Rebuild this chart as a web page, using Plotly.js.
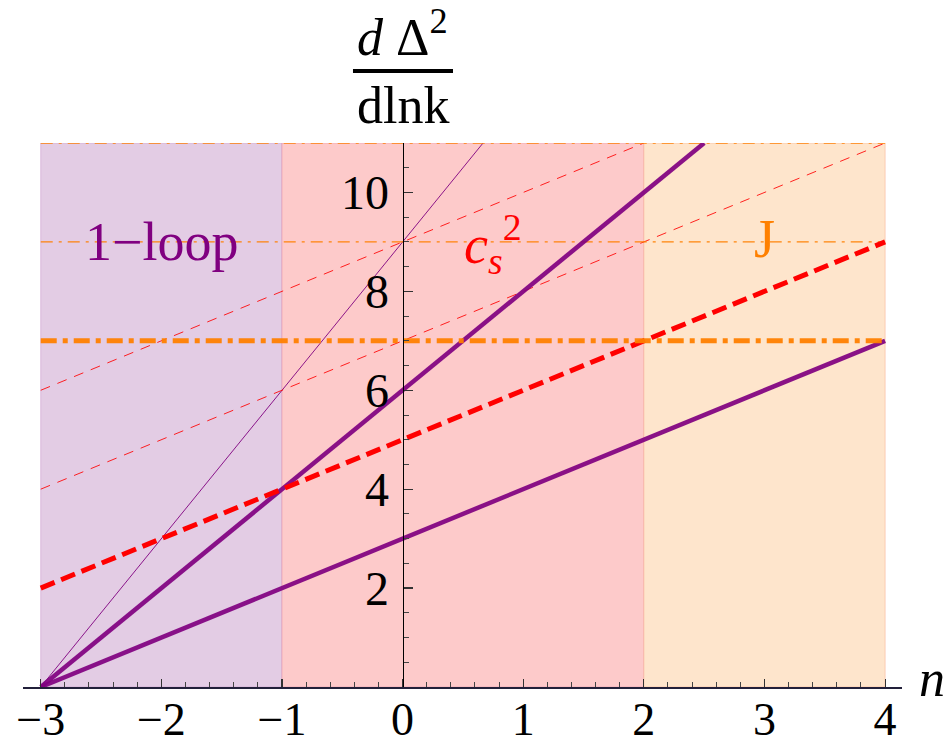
<!DOCTYPE html>
<html><head><meta charset="utf-8">
<script src="https://cdn.plot.ly/plotly-3.0.1.min.js"></script>
<style>html,body{margin:0;padding:0;background:#fff}</style>
</head><body><div id="chart" style="width:950px;height:740px"></div>
<script>
// ---- data ----
const regionStart = [-3, -1, 2];
const regionEnd = [-1, 2, 4];
const regionTop = 11;
const regionNames = ['1-loop', 'cs2', 'J'];

// purple lines (1-loop)
const loopThinN = [-3, -1, 0, 0.667];
const loopThinY = [0, 6, 9, 11];
const loopThickN = [-3, -1, 0, 2.5];
const loopThickY = [0, 4, 6, 11];
const loopMidN = [-3, -1, 0, 4];
const loopMidY = [0, 2, 3, 7];

// red dashed lines (c_s^2)
const csThickN = [-3, -1, 0, 2, 4];
const csThickY = [2, 4, 5, 7, 9];
const csThinAN = [-3, -1, 0, 4];
const csThinAY = [4, 6, 7, 11];
const csThinBN = [-3, -1, 0, 2];
const csThinBY = [6, 8, 9, 11];

// orange dash-dot lines (J)
const jThickN = [-3, 4];
const jThickY = [7, 7];
const jThinAN = [-3, 4];
const jThinAY = [9, 9];
const jThinBN = [-3, 4];
const jThinBY = [11, 11];

const xTickVals = [-3, -2, -1, 0, 1, 2, 3, 4];
const yTickVals = [2, 4, 6, 8, 10];

const labelText = ['1\u2212loop', '<i>c</i><sub><i>s</i></sub><sup>2</sup>', 'J'];
const labelN = [-2, 0.75, 3];
const labelY = [9, 8.95, 9.05];

// ---- styles ----
const regionFill = ['#e3cce4', '#fdcaca', '#fee5cc'];
const regionEdge = ['rgba(200,150,200,0.5)', 'rgba(235,150,170,0.6)', 'rgba(250,180,150,0.6)'];
const PURPLE = 'rgb(128,0,128)';
const RED = '#ff0000';
const ORANGE = '#ff7f00';
const SERIF = '"Liberation Serif", "DejaVu Serif", serif';

const traces = [];
for (let i = 0; i < regionStart.length; i++) {
  traces.push({
    x: [regionStart[i], regionEnd[i], regionEnd[i], regionStart[i], regionStart[i]],
    y: [0, 0, regionTop, regionTop, 0],
    mode: 'lines', fill: 'toself', fillcolor: regionFill[i],
    line: {color: regionEdge[i], width: 1}, hoverinfo: 'skip', name: regionNames[i]
  });
}
function line(x, y, color, width, dash, opacity, clip) {
  traces.push({x: x, y: y, mode: 'lines', line: {color: color, width: width, dash: dash},
    opacity: opacity, hoverinfo: 'skip', cliponaxis: clip});
}
line(loopThinN, loopThinY, PURPLE, 1, 'solid', 0.9, true);
line(csThinAN, csThinAY, RED, 1, '10px,8px', 0.85, true);
line(csThinBN, csThinBY, RED, 1, '10px,8px', 0.85, true);
line(jThinAN, jThinAY, ORANGE, 1.2, '12px,6px,3px,6px', 0.95, true);
line(jThinBN, jThinBY, ORANGE, 1.5, '12px,6px,3px,6px', 0.95, false);
line(loopMidN, loopMidY, PURPLE, 4.5, 'solid', 0.92, true);
line(loopThickN, loopThickY, PURPLE, 4.5, 'solid', 0.92, true);
line(csThickN, csThickY, RED, 5, '15px,7px', 1, true);
line(jThickN, jThickY, ORANGE, 5, '16px,6px,5px,6px', 0.95, true);

const xMin = -3.147, xMax = 4.14;
const labelColors = [PURPLE, RED, '#ff8000'];
const annotations = labelText.map((t, i) => ({
  x: labelN[i], y: labelY[i], xref: 'x', yref: 'y', text: t, showarrow: false,
  font: {family: SERIF, size: 54, color: labelColors[i]}, xanchor: 'center', yanchor: 'middle'
}));
annotations.push({x: 0, y: 1, xref: 'x', yref: 'paper', text: '<i>d</i> \u0394<sup>2</sup>',
  showarrow: false, font: {family: SERIF, size: 52, color: '#000'}, xanchor: 'center', yanchor: 'middle', yshift: 110});
annotations.push({x: 0, y: 1, xref: 'x', yref: 'paper', text: 'dlnk',
  showarrow: false, font: {family: SERIF, size: 52, color: '#000'}, xanchor: 'center', yanchor: 'middle', yshift: 38});
annotations.push({x: 1.034, y: 0.016, xref: 'paper', yref: 'paper', text: '<i>n</i>',
  showarrow: false, font: {family: SERIF, size: 52, color: '#000'}, xanchor: 'center', yanchor: 'middle'});

const layout = {
  width: 950, height: 740,
  margin: {l: 23, r: 48, t: 143, b: 53},
  paper_bgcolor: '#fff', plot_bgcolor: 'rgba(0,0,0,0)',
  showlegend: false,
  font: {family: SERIF},
  xaxis: {
    range: [xMin, xMax], showgrid: false, zeroline: false,
    showline: true, linecolor: '#22203a', linewidth: 1.5,
    tickmode: 'array', tickvals: xTickVals, ticks: 'inside', ticklen: 8, tickwidth: 1.2, tickcolor: '#333',
    minor: {dtick: 0.2, tick0: 0, ticks: 'inside', ticklen: 5, tickwidth: 1, tickcolor: '#444'},
    tickfont: {family: SERIF, size: 46, color: '#000'}, anchor: 'y', ticklabelstandoff: -9
  },
  yaxis: {
    range: [0, 11], showgrid: false, zeroline: false,
    showline: true, linecolor: '#000', linewidth: 1.5,
    anchor: 'free', position: (0 - xMin) / (xMax - xMin),
    tickmode: 'array', tickvals: yTickVals, ticks: 'inside', ticklen: 9, tickwidth: 1.2, tickcolor: '#333',
    minor: {dtick: 0.5, tick0: 0, ticks: 'inside', ticklen: 5, tickwidth: 1, tickcolor: '#444'},
    tickfont: {family: SERIF, size: 48, color: '#000'}, ticklabelstandoff: 4
  },
  shapes: [{type: 'line', xref: 'paper', yref: 'paper', x0: 0.3754, x1: 0.4892,
    y0: 1.1324, y1: 1.1324, line: {color: '#000', width: 4}}],
  annotations: annotations
};
Plotly.newPlot('chart', traces, layout, {displayModeBar: false, staticPlot: true});
</script></body></html>
